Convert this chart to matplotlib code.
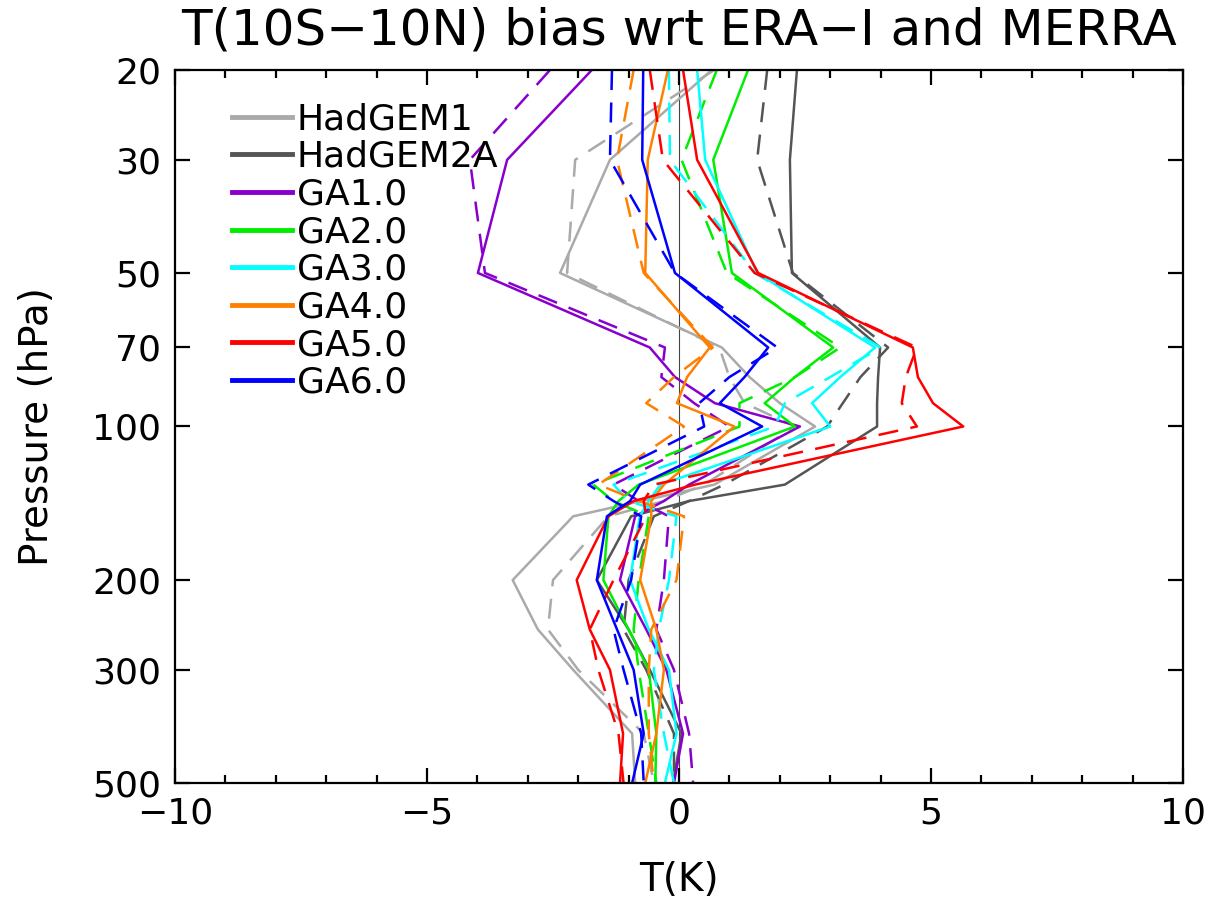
import numpy as np
import matplotlib.pyplot as plt
from matplotlib.lines import Line2D

plt.rcParams.update({
    "font.family": "DejaVu Sans",
    "font.size": 26,
})

# Pressure levels (hPa)
plev = [20, 30, 50, 70, 80, 90, 100, 130, 140, 150, 200, 250, 300, 400, 500]

# T bias (K): solid = wrt ERA-I, dashed = wrt MERRA
hg1_era   = [0.65, -1.37, -2.36, 0.85, 1.4, 2.0, 2.7, 0.7, -0.75, -2.1, -3.3, -2.8, -2.1, -0.93, -0.87]
hg1_merra = [0.7, -2.06, -2.22, 0.8, 1.0, 1.3, 2.3, 0.5, -0.3, -1.4, -2.5, -2.6, -2.0, -0.7, -0.5]
hg2_era   = [2.34, 2.2, 2.24, 3.99, 3.95, 3.93, 3.93, 2.1, 0.2, -0.95, -1.63, -1.0, -0.58, 0.05, -0.12]
hg2_merra = [1.75, 1.55, 2.26, 4.15, 3.6, 3.25, 2.94, 0.9, 0.2, -0.5, -1.0, -1.1, -0.65, -0.1, -0.1]
ga1_era   = [-1.73, -3.41, -3.99, -0.58, -0.08, 0.71, 2.4, 0.2, -0.3, -0.87, -1.17, -0.65, -0.25, 0.08, -0.1]
ga1_merra = [-2.56, -4.15, -3.85, -0.28, -0.35, 0.3, 1.0, -1.3, -0.8, -0.2, -0.3, -0.45, -0.1, 0.2, 0.28]
ga2_era   = [1.37, 0.68, 1.05, 3.06, 2.3, 1.7, 2.3, -0.8, -1.2, -1.4, -1.5, -1.0, -0.6, -0.45, -0.47]
ga2_merra = [0.75, 0.05, 0.95, 3.2, 2.3, 1.2, 1.2, -1.7, -1.3, -0.6, -0.8, -0.9, -0.8, -0.6, -0.45]
ga3_era   = [0.36, 0.52, 1.55, 3.89, 3.2, 2.64, 3.0, -0.37, -0.6, -0.78, -0.97, -0.6, -0.2, -0.05, -0.28]
ga3_merra = [-0.2, -0.18, 1.5, 4.0, 3.0, 2.1, 1.9, -1.3, -1.0, -0.05, -0.2, -0.4, -0.5, -0.3, -0.1]
ga4_era   = [-0.22, -0.62, -0.67, 0.61, 0.16, -0.04, 1.1, -0.3, -0.55, -0.55, -0.77, -0.45, -0.3, -0.45, -0.67]
ga4_merra = [-0.9, -1.23, -0.7, 0.67, -0.1, -0.65, 0.1, -1.6, -0.8, 0.1, -0.05, -0.55, -0.6, -0.6, -0.5]
ga5_era   = [0.08, 0.36, 1.57, 4.64, 4.74, 5.04, 5.64, 0.32, -0.9, -1.4, -2.03, -1.77, -1.37, -1.11, -1.17]
ga5_merra = [-0.58, -0.32, 1.5, 4.72, 4.5, 4.42, 4.72, -0.5, -0.7, -0.65, -1.3, -1.77, -1.6, -1.2, -1.1]
ga6_era   = [-0.71, -0.73, -0.08, 1.77, 1.3, 0.81, 1.65, -0.77, -0.97, -1.43, -1.63, -1.23, -0.9, -0.7, -0.93]
ga6_merra = [-1.33, -1.37, -0.08, 1.95, 1.0, 0.4, 0.5, -1.8, -1.3, -0.75, -0.95, -1.3, -1.1, -0.75, -0.7]

names  = ["HadGEM1", "HadGEM2A", "GA1.0", "GA2.0", "GA3.0", "GA4.0", "GA5.0", "GA6.0"]
colors = ["#aaaaaa", "#555555", "#8800cc", "#00ee00", "#00ffff", "#ff8000", "#ff0000", "#0000ff"]
era    = [hg1_era, hg2_era, ga1_era, ga2_era, ga3_era, ga4_era, ga5_era, ga6_era]
merra  = [hg1_merra, hg2_merra, ga1_merra, ga2_merra, ga3_merra, ga4_merra, ga5_merra, ga6_merra]

fig = plt.figure(figsize=(12.1, 9.05), dpi=100)
ax = fig.add_axes([175/1210, 122/905, 1008/1210, 713/905])

ax.axvline(0, color="#444444", lw=0.8, zorder=1)
for c, e, m in zip(colors, era, merra):
    ax.plot(e, plev, color=c, lw=1.8, zorder=2)
    ax.plot(m, plev, color=c, lw=1.8, dashes=(8, 5), zorder=2)

ax.set_yscale("log")
ax.set_ylim(500, 20)
ax.set_xlim(-10, 10)
yt = [20, 30, 50, 70, 100, 200, 300, 500]
ax.set_yticks(yt)
ax.set_yticklabels([str(v) for v in yt])
ax.yaxis.set_minor_locator(plt.NullLocator())
ax.set_xticks([-10, -5, 0, 5, 10])
ax.set_xticklabels(["\u221210", "\u22125", "0", "5", "10"])
ax.set_xticks(np.arange(-10, 11, 1), minor=True)
ax.tick_params(which="both", direction="in", top=True, right=True, width=1.6)
ax.tick_params(which="major", length=11, pad=10)
ax.tick_params(which="minor", length=6)
for s in ax.spines.values():
    s.set_linewidth(1.6)

ax.set_xlabel("T(K)", fontsize=28, labelpad=22)
ax.set_ylabel("Pressure (hPa)", fontsize=28, labelpad=26)
ax.set_title("T(10S\u221210N) bias wrt ERA\u2212I and MERRA", fontsize=36, pad=18)

handles = [Line2D([], [], color=c, lw=3.5) for c in colors]
ax.legend(handles, names, loc="upper left", bbox_to_anchor=(0.035, 0.985),
          frameon=False, handlelength=1.65, handletextpad=0.15,
          labelspacing=0.1, borderaxespad=0.2, fontsize=26)

fig.savefig("out.png", dpi=100)
